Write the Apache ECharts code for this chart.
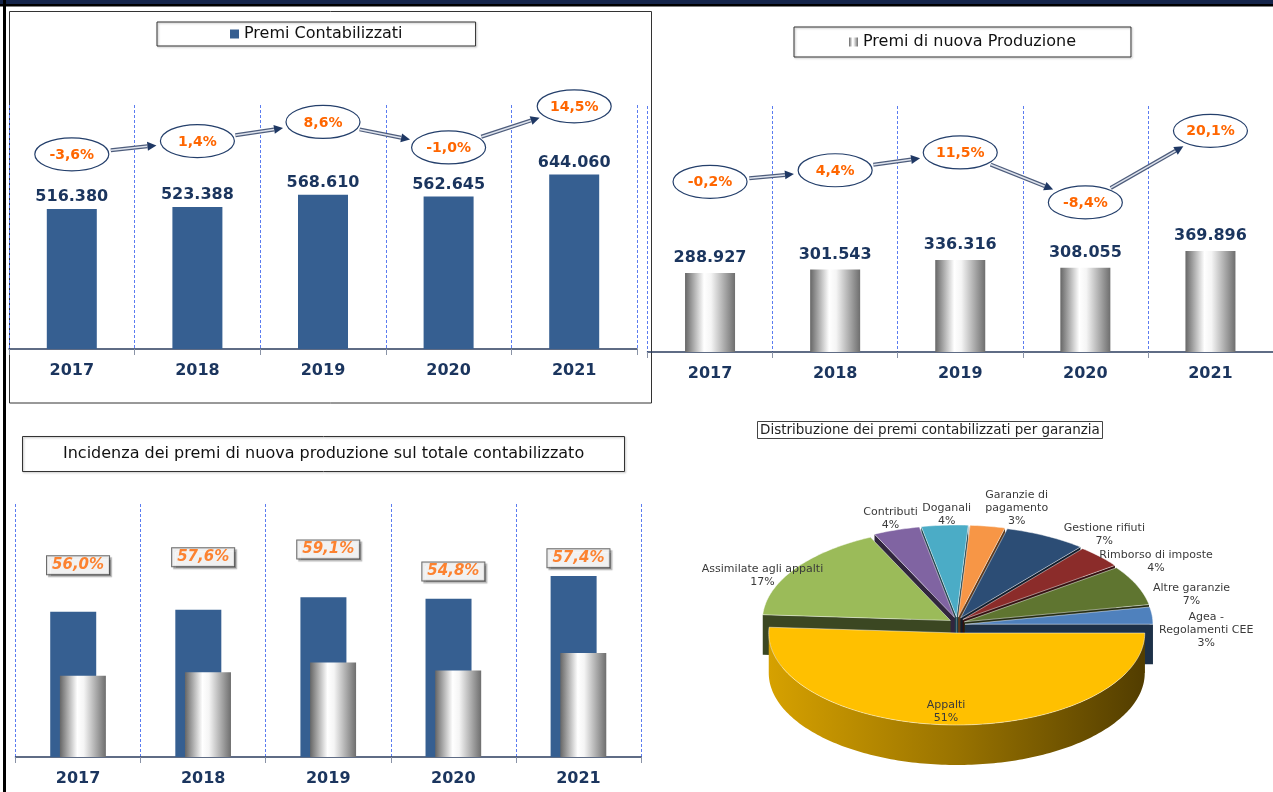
<!DOCTYPE html>
<html>
<head>
<meta charset="utf-8">
<script src="https://cdn.jsdelivr.net/npm/echarts@6/dist/echarts.min.js"></script>
<style>
    html, body { margin: 0; padding: 0; background: #fff; }
    #main { width: 1273px; height: 792px; }
</style>
</head>
<body>
<div id="main"></div>
<script>
    // dati
    var anni = ['2017', '2018', '2019', '2020', '2021'];
    var premiContabilizzati = [516380, 523388, 568610, 562645, 644060];
    var premiNuovaProduzione = [288927, 301543, 336316, 308055, 369896];
    var variazContabilizzati = [-3.6, 1.4, 8.6, -1.0, 14.5];
    var variazNuovaProduzione = [-0.2, 4.4, 11.5, -8.4, 20.1];
    var incidenza = [56.0, 57.6, 59.1, 54.8, 57.4];
    var garanzie = ['Appalti', 'Assimilate agli appalti', 'Contributi', 'Doganali', 'Garanzie di\npagamento',
        'Gestione rifiuti', 'Rimborso di imposte', 'Altre garanzie', 'Agea -\nRegolamenti CEE'];
    var quoteGaranzie = [51, 17, 4, 4, 3, 7, 4, 7, 3];

    var NAVY = '#365f91';
    var TXT = '#1b355e';
    var ORANGE = '#ff6600';
    var FONT = 'DejaVu Sans';
    var coloriGaranzie = ['#ffc000', '#9bbb59', '#8064a2', '#4bacc6', '#f79646', '#2c4d75', '#8b2c2a', '#5f7530', '#4f81bd'];

    function fmtMigliaia(v) {
        return String(v).replace(/\B(?=(\d{3})+(?!\d))/g, '.');
    }
    function fmtPerc(v) {
        return v.toFixed(1).replace('.', ',') + '%';
    }
    function shade(hex, k) {
        var n = parseInt(hex.slice(1), 16);
        var r = Math.round(((n >> 16) & 255) * k), g = Math.round(((n >> 8) & 255) * k), b = Math.round((n & 255) * k);
        return 'rgb(' + r + ',' + g + ',' + b + ')';
    }

    var cilindro = new echarts.graphic.LinearGradient(0, 0, 1, 0, [
        {offset: 0, color: '#666666'},
        {offset: 0.38, color: '#ffffff'},
        {offset: 0.52, color: '#f5f5f5'},
        {offset: 1, color: '#6e6e6e'}
    ]);

    // ellissi con le variazioni e frecce
    var ERX = 37, ERY = 16.5;
    function variazRenderer(valori) {
        return function (params, api) {
            var i = params.dataIndex;
            var p = api.coord([i, valori[i]]);
            var children = [
                {type: 'ellipse', shape: {cx: p[0], cy: p[1], rx: ERX, ry: ERY},
                    style: {fill: '#fff', stroke: '#243f6b', lineWidth: 1.2}},
                {type: 'text', style: {x: p[0], y: p[1] + 1, text: fmtPerc(valori[i]), fill: ORANGE,
                    font: 'bold 14px ' + FONT, align: 'center', verticalAlign: 'middle'}}
            ];
            if (i < valori.length - 1) {
                var q = api.coord([i + 1, valori[i + 1]]);
                var dx = q[0] - p[0], dy = q[1] - p[1];
                var len = Math.sqrt(dx * dx + dy * dy);
                var ux = dx / len, uy = dy / len;
                var t = 1 / Math.sqrt((ux / ERX) * (ux / ERX) + (uy / ERY) * (uy / ERY));
                var s = [p[0] + ux * (t + 3), p[1] + uy * (t + 3)];
                var e = [q[0] - ux * (t + 5), q[1] - uy * (t + 5)];
                var b = [e[0] - ux * 9, e[1] - uy * 9];
                children.push(
                    {type: 'line', shape: {x1: s[0], y1: s[1], x2: b[0], y2: b[1]}, style: {stroke: '#4e5d7c', lineWidth: 4}},
                    {type: 'line', shape: {x1: s[0], y1: s[1], x2: b[0], y2: b[1]}, style: {stroke: '#dde2ec', lineWidth: 1.5}},
                    {type: 'polygon', shape: {points: [e, [b[0] - uy * 4.5, b[1] + ux * 4.5], [b[0] + uy * 4.5, b[1] - ux * 4.5]]},
                        style: {fill: '#1f3864'}}
                );
            }
            return {type: 'group', children: children};
        };
    }

    // torta pseudo 3D
    var PIE = {cx: 957, cy: 625, rx: 188, ry: 92, h: 40, esplodi: 8};
    var totGaranzie = quoteGaranzie.reduce(function (a, b) { return a + b; }, 0);
    var angoli = [];
    var acc = 0;
    quoteGaranzie.forEach(function (v) {
        var a0 = acc / totGaranzie * Math.PI * 2;
        acc += v;
        angoli.push([a0, acc / totGaranzie * Math.PI * 2]);
    });
    var rango = [];
    angoli.map(function (a, i) { return i; })
        .sort(function (x, y) {
            return Math.sin((angoli[x][0] + angoli[x][1]) / 2) - Math.sin((angoli[y][0] + angoli[y][1]) / 2);
        })
        .forEach(function (idx, r) { rango[idx] = r; });

    function torta(params, api) {
        var i = params.dataIndex;
        var v = api.value(0);
        var a0 = angoli[i][0], a1 = angoli[i][1], m = (a0 + a1) / 2;
        var cx = PIE.cx + PIE.esplodi * Math.cos(m), cy = PIE.cy + PIE.esplodi * Math.sin(m);
        function arco(s, e, dz) {
            var pts = [], n = Math.max(2, Math.ceil((e - s) / 0.02));
            for (var k = 0; k <= n; k++) {
                var a = s + (e - s) * k / n;
                pts.push([cx + PIE.rx * Math.cos(a), cy + PIE.ry * Math.sin(a) + dz]);
            }
            return pts;
        }
        var z = rango[i] * 10;
        var col = coloriGaranzie[i];
        var children = [];
        [a0, a1].forEach(function (a) {
            var px = cx + PIE.rx * Math.cos(a), py = cy + PIE.ry * Math.sin(a);
            children.push({type: 'polygon', z2: z,
                shape: {points: [[cx, cy], [px, py], [px, py + PIE.h], [cx, cy + PIE.h]]},
                style: {fill: shade(col, 0.38)}});
        });
        var s = Math.max(a0, 0), e = Math.min(a1, Math.PI);
        if (e > s) {
            children.push({type: 'polygon', z2: z + 1,
                shape: {points: arco(s, e, 0).concat(arco(s, e, PIE.h).reverse())},
                style: {fill: new echarts.graphic.LinearGradient(0, 0, 1, 0, [
                    {offset: 0, color: shade(col, 0.84)},
                    {offset: 0.5, color: shade(col, 0.6)},
                    {offset: 1, color: shade(col, 0.32)}
                ])}});
        }
        children.push({type: 'polygon', z2: z + 2,
            shape: {points: [[cx, cy]].concat(arco(a0, a1, 0))},
            style: {fill: col, stroke: 'rgba(255,255,255,0.6)', lineWidth: 0.8}});

        var testo = garanzie[params.dataIndex] + '\n' + v + '%';
        var righe = testo.split('\n').length;
        var c = Math.cos(m), sn = Math.sin(m);
        var px = PIE.cx + PIE.rx * c, py = PIE.cy + PIE.ry * sn;
        var lx, ly;
        if (v >= 30) {
            lx = PIE.cx + 0.5 * PIE.rx * c - 8;
            ly = cy + 0.85 * PIE.ry * sn;
        } else if (c > 0.3) {
            lx = px + 62;
            ly = py - 8.5 + 31 * (c - 0.454) + (righe - 2) * 6;
        } else if (c < -0.5) {
            lx = px - 39;
            ly = py + 2;
        } else {
            lx = px + 40 * c + 4 + (righe - 2) * 20;
            ly = py - 19 - (righe - 2) * 7;
        }
        children.push({type: 'text', z2: 200, style: {x: lx, y: ly, text: testo, fill: '#3a3a3a',
            font: '11px ' + FONT, lineHeight: 13, align: 'center', verticalAlign: 'middle'}});
        return {type: 'group', children: children};
    }

    var asseX = function (gridIndex) {
        return {
            type: 'category',
            gridIndex: gridIndex,
            data: anni,
            axisLine: {lineStyle: {color: '#2b3d5e', width: 1.5}},
            axisTick: {show: true, length: 6, lineStyle: {color: '#8a93a6'}},
            splitLine: {show: true, interval: 0, lineStyle: {color: '#5b7cf0', type: [3, 2], width: 1}},
            axisLabel: {color: TXT, fontWeight: 'bold', fontSize: 16, fontFamily: FONT, margin: 14, interval: 0}
        };
    };

    var chart = echarts.init(document.getElementById('main'));

    var option = {
        animation: false,
        textStyle: {fontFamily: FONT},
        title: [{
            text: 'Incidenza dei premi di nuova produzione sul totale contabilizzato',
            left: 22,
            top: 436,
            padding: [10, 41],
            borderWidth: 1,
            borderColor: '#333',
            shadowColor: 'rgba(0,0,0,0.3)',
            shadowOffsetX: 1,
            shadowOffsetY: 1,
            shadowBlur: 2,
            textStyle: {fontSize: 16, fontWeight: 'normal', color: '#111', fontFamily: FONT}
        }, {
            text: 'Distribuzione dei premi contabilizzati per garanzia',
            left: 757,
            top: 421,
            padding: [2, 3],
            borderWidth: 1,
            borderColor: '#444',
            textStyle: {fontSize: 13.5, fontWeight: 'normal', color: '#222', fontFamily: FONT}
        }],
        legend: [{
            data: ['Premi Contabilizzati'],
            left: 157,
            top: 22,
            padding: [4, 73],
            icon: 'rect',
            itemWidth: 9,
            itemHeight: 9,
            borderWidth: 1,
            borderColor: '#333',
            shadowColor: 'rgba(0,0,0,0.3)',
            shadowOffsetX: 1,
            shadowOffsetY: 1,
            shadowBlur: 2,
            selectedMode: false,
            textStyle: {fontSize: 16, color: '#111', fontFamily: FONT}
        }, {
            data: ['Premi di nuova Produzione'],
            left: 794,
            top: 27,
            padding: [7, 55],
            icon: 'rect',
            itemWidth: 9,
            itemHeight: 9,
            borderWidth: 1,
            borderColor: '#333',
            shadowColor: 'rgba(0,0,0,0.3)',
            shadowOffsetX: 1,
            shadowOffsetY: 1,
            shadowBlur: 2,
            selectedMode: false,
            textStyle: {fontSize: 16, color: '#111', fontFamily: FONT}
        }],
        grid: [
            {left: 9, top: 105, width: 628, height: 244},
            {left: 647.5, top: 106, width: 625.5, height: 246},
            {left: 15.5, top: 504, width: 625.5, height: 253}
        ],
        xAxis: [asseX(0), asseX(1), asseX(2)],
        yAxis: [
            {gridIndex: 0, type: 'value', min: 0, max: 900000, show: false},
            {gridIndex: 0, type: 'value', min: -77, max: 15, show: false},
            {gridIndex: 1, type: 'value', min: 0, max: 900000, show: false},
            {gridIndex: 1, type: 'value', min: -68, max: 30, show: false},
            {gridIndex: 2, type: 'value', min: 0, max: 900000, show: false},
            {gridIndex: 2, type: 'value', min: 18.5, max: 68, show: false}
        ],
        graphic: [
            {type: 'rect', shape: {x: 0, y: 0, width: 1273, height: 4}, style: {fill: '#15254b'}},
            {type: 'rect', shape: {x: 0, y: 4, width: 1273, height: 2.5}, style: {fill: '#000'}},
            {type: 'rect', shape: {x: 3, y: 0, width: 3, height: 792}, style: {fill: '#000'}},
            {type: 'rect', shape: {x: 9.5, y: 11.5, width: 642, height: 391.5},
                style: {fill: null, stroke: '#333', lineWidth: 1}}
        ],
        series: [{
            name: 'Premi Contabilizzati',
            type: 'bar',
            xAxisIndex: 0,
            yAxisIndex: 0,
            data: premiContabilizzati,
            barWidth: 50,
            itemStyle: {color: NAVY},
            label: {show: true, position: 'top', distance: 4, color: TXT, fontWeight: 'bold', fontSize: 16,
                fontFamily: FONT, formatter: function (p) { return fmtMigliaia(p.value); }}
        }, {
            name: 'Variazione contabilizzati',
            type: 'custom',
            xAxisIndex: 0,
            yAxisIndex: 1,
            data: variazContabilizzati.map(function (v, i) { return [i, v]; }),
            encode: {x: 0, y: 1},
            renderItem: variazRenderer(variazContabilizzati),
            z: 5
        }, {
            name: 'Premi di nuova Produzione',
            type: 'bar',
            xAxisIndex: 1,
            yAxisIndex: 2,
            data: premiNuovaProduzione,
            barWidth: 50,
            itemStyle: {color: cilindro},
            label: {show: true, position: 'top', distance: 7, color: TXT, fontWeight: 'bold', fontSize: 16,
                fontFamily: FONT, formatter: function (p) { return fmtMigliaia(p.value); }}
        }, {
            name: 'Variazione nuova produzione',
            type: 'custom',
            xAxisIndex: 1,
            yAxisIndex: 3,
            data: variazNuovaProduzione.map(function (v, i) { return [i, v]; }),
            encode: {x: 0, y: 1},
            renderItem: variazRenderer(variazNuovaProduzione),
            z: 5
        }, {
            name: 'Contabilizzati',
            type: 'bar',
            xAxisIndex: 2,
            yAxisIndex: 4,
            data: premiContabilizzati,
            barWidth: 46,
            barGap: '-79%',
            itemStyle: {color: NAVY}
        }, {
            name: 'Nuova produzione',
            type: 'bar',
            xAxisIndex: 2,
            yAxisIndex: 4,
            data: premiNuovaProduzione,
            barWidth: 46,
            barGap: '-79%',
            itemStyle: {color: cilindro}
        }, {
            name: 'Incidenza',
            type: 'scatter',
            xAxisIndex: 2,
            yAxisIndex: 5,
            data: incidenza,
            symbolSize: 1,
            itemStyle: {color: 'rgba(0,0,0,0)'},
            label: {
                show: true,
                position: 'inside',
                formatter: function (p) { return fmtPerc(p.value); },
                color: ORANGE,
                fontStyle: 'italic',
                fontWeight: 'bold',
                fontSize: 15,
                fontFamily: FONT,
                backgroundColor: '#fff',
                borderColor: '#444',
                borderWidth: 1,
                padding: [2, 5, 1, 5],
                shadowColor: 'rgba(0,0,0,0.35)',
                shadowOffsetX: 2,
                shadowOffsetY: 2,
                shadowBlur: 1
            }
        }, {
            name: 'Garanzie',
            type: 'custom',
            coordinateSystem: 'none',
            data: quoteGaranzie.map(function (v) { return [v]; }),
            renderItem: torta
        }]
    };

    chart.setOption(option);
</script>
</body>
</html>
